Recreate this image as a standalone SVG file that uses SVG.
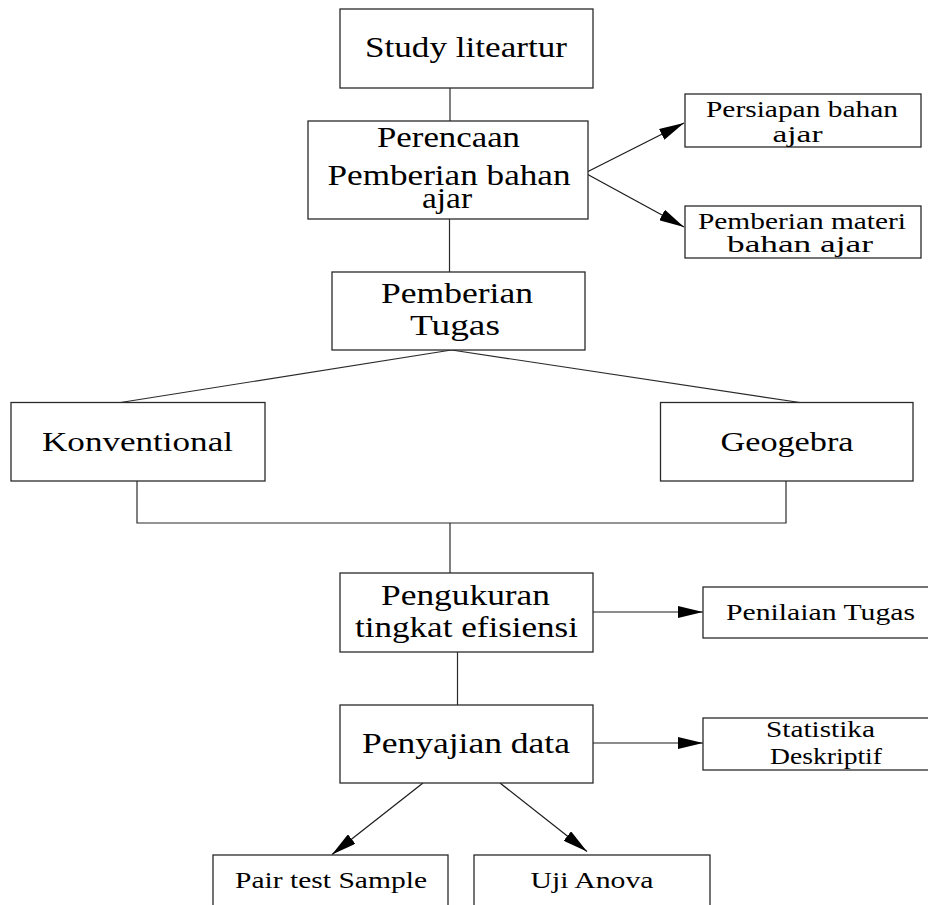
<svg xmlns="http://www.w3.org/2000/svg" width="928" height="905" viewBox="0 0 928 905">
<defs>
<marker id="ah" viewBox="0 0 25 12" refX="25" refY="6" markerWidth="25" markerHeight="12" markerUnits="userSpaceOnUse" orient="auto">
<path d="M0,0 L25,6 L0,12 z" fill="#000"/>
</marker>
<style>
.box{fill:#fff;stroke:#2a2a2a;stroke-width:1.3}
.ln{fill:none;stroke:#2a2a2a;stroke-width:1.2}
.arr{fill:none;stroke:#1a1a1a;stroke-width:1.2;marker-end:url(#ah)}
text{font-family:"Liberation Serif","Times New Roman",serif;fill:#000;text-anchor:middle}
.l{font-size:30px}
.m{font-size:27px}
.s{font-size:22.5px}
</style>
</defs>
<rect width="928" height="905" fill="#fff"/>
<g id="connectors">
<line class="ln" x1="450" y1="88" x2="450" y2="121"/>
<line class="ln" x1="449.5" y1="219" x2="449.5" y2="272"/>
<line class="arr" x1="585" y1="173" x2="684" y2="123"/>
<line class="arr" x1="585" y1="173" x2="684" y2="227"/>
<line class="ln" x1="451.5" y1="350" x2="120.5" y2="402.5"/>
<line class="ln" x1="451.5" y1="350" x2="800" y2="402.5"/>
<polyline class="ln" points="137,481 137,523 786,523 786,481"/>
<line class="ln" x1="450" y1="523" x2="450" y2="573"/>
<line class="arr" x1="593" y1="612" x2="703" y2="612"/>
<line class="ln" x1="457.5" y1="652" x2="457.5" y2="705"/>
<line class="arr" x1="593" y1="743" x2="703" y2="743"/>
<line class="arr" x1="423" y1="783" x2="332" y2="854.5"/>
<line class="arr" x1="500" y1="783" x2="587" y2="851.5"/>
</g>
<g id="study">
<rect class="box" x="340" y="9" width="253" height="79"/>
<text class="l" x="466" y="57" textLength="202" lengthAdjust="spacingAndGlyphs">Study liteartur</text>
</g>
<g id="perencanaan">
<rect class="box" x="308" y="121" width="280" height="98"/>
<text class="l" x="448.5" y="147" textLength="143" lengthAdjust="spacingAndGlyphs">Perencaan</text>
<text class="l" x="449" y="185" textLength="243" lengthAdjust="spacingAndGlyphs">Pemberian bahan</text>
<text class="l" x="447" y="208" textLength="50" lengthAdjust="spacingAndGlyphs">ajar</text>
</g>
<g id="persiapan">
<rect class="box" x="685" y="94" width="236" height="53"/>
<text class="s" x="802" y="117" textLength="192" lengthAdjust="spacingAndGlyphs">Persiapan bahan</text>
<text class="s" x="797.5" y="142" textLength="50" lengthAdjust="spacingAndGlyphs">ajar</text>
</g>
<g id="pemberian-materi">
<rect class="box" x="685" y="206" width="236" height="52"/>
<text class="s" x="802" y="228.5" textLength="208" lengthAdjust="spacingAndGlyphs">Pemberian materi</text>
<text class="s" x="800" y="252" textLength="146" lengthAdjust="spacingAndGlyphs">bahan ajar</text>
</g>
<g id="pemberian-tugas">
<rect class="box" x="332" y="272" width="253" height="78"/>
<text class="l" x="457" y="303" textLength="152" lengthAdjust="spacingAndGlyphs">Pemberian</text>
<text class="l" x="455" y="335" textLength="90" lengthAdjust="spacingAndGlyphs">Tugas</text>
</g>
<g id="konventional">
<rect class="box" x="11" y="402.5" width="254" height="78.5"/>
<text class="m" x="137.5" y="451" textLength="191" lengthAdjust="spacingAndGlyphs">Konventional</text>
</g>
<g id="geogebra">
<rect class="box" x="660.5" y="402.5" width="252.5" height="78.5"/>
<text class="m" x="787" y="451" textLength="133" lengthAdjust="spacingAndGlyphs">Geogebra</text>
</g>
<g id="pengukuran">
<rect class="box" x="340" y="573" width="253" height="79"/>
<text class="l" x="465.5" y="605" textLength="169" lengthAdjust="spacingAndGlyphs">Pengukuran</text>
<text class="l" x="466.5" y="637" textLength="223" lengthAdjust="spacingAndGlyphs">tingkat efisiensi</text>
</g>
<g id="penilaian">
<rect class="box" x="703" y="587" width="230" height="51"/>
<text class="s" x="820.5" y="620" textLength="189" lengthAdjust="spacingAndGlyphs">Penilaian Tugas</text>
</g>
<g id="penyajian">
<rect class="box" x="340" y="705" width="253" height="78"/>
<text class="l" x="466" y="752.5" textLength="208" lengthAdjust="spacingAndGlyphs">Penyajian data</text>
</g>
<g id="statistika">
<rect class="box" x="703" y="718" width="230" height="52"/>
<text class="s" x="820.5" y="737" textLength="109" lengthAdjust="spacingAndGlyphs">Statistika</text>
<text class="s" x="826" y="764" textLength="112" lengthAdjust="spacingAndGlyphs">Deskriptif</text>
</g>
<g id="pair-test">
<rect class="box" x="213" y="855" width="235" height="60"/>
<text class="s" x="331" y="888" textLength="192" lengthAdjust="spacingAndGlyphs">Pair test Sample</text>
</g>
<g id="uji-anova">
<rect class="box" x="474" y="855" width="236" height="60"/>
<text class="s" x="592" y="888" textLength="123" lengthAdjust="spacingAndGlyphs">Uji Anova</text>
</g>
</svg>
